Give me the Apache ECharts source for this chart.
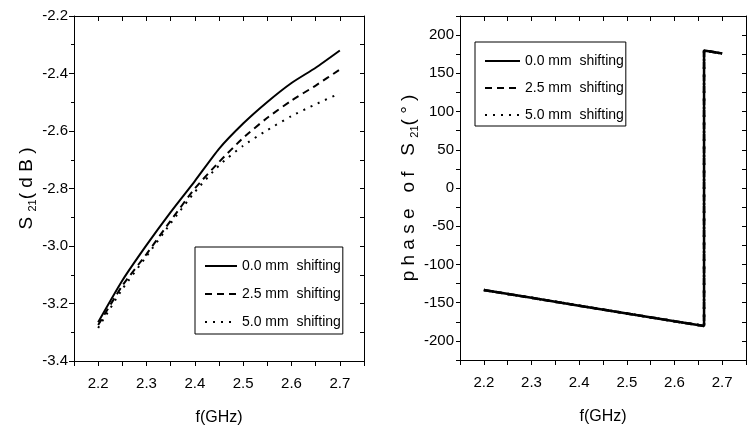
<!DOCTYPE html>
<html><head><meta charset="utf-8">
<script src="https://cdn.jsdelivr.net/npm/echarts@6/dist/echarts.min.js"></script>
<style>html,body{margin:0;padding:0;background:#fff}#c{width:749px;height:432px}</style>
</head><body><div id="c"></div>
<script>
// ---- data ----
const seriesNames = ['0.0 mm  shifting', '2.5 mm  shifting', '5.0 mm  shifting'];
const freq = [2.20, 2.25, 2.30, 2.35, 2.40, 2.45, 2.50, 2.55, 2.60, 2.65, 2.70];
const s21_0mm  = [-3.265, -3.120, -2.997, -2.882, -2.774, -2.662, -2.574, -2.499, -2.433, -2.380, -2.320];
const s21_25mm = [-3.275, -3.138, -3.028, -2.912, -2.800, -2.708, -2.624, -2.554, -2.494, -2.442, -2.386];
const s21_50mm = [-3.285, -3.150, -3.036, -2.921, -2.812, -2.720, -2.651, -2.597, -2.548, -2.507, -2.469];
const phaseFreq = [2.20, 2.30, 2.40, 2.50, 2.60, 2.662, 2.662, 2.70];
const phase_0mm  = [-133.5, -143.7, -153.9, -164.1, -174.3, -180.5, 180.0, 176.0];
const phase_25mm = [-133.5, -143.7, -153.9, -164.1, -174.3, -180.5, 180.0, 176.0];
const phase_50mm = [-133.5, -143.7, -153.9, -164.1, -174.3, -180.5, 180.0, 176.0];
const xTickLabels = ['2.2', '2.3', '2.4', '2.5', '2.6', '2.7'];

// ---- styles ----
const FONT = "'Liberation Sans', Arial, sans-serif";
const lineTypes = ['solid', [7, 5], [2, 6]];
const black = '#000';
const pair = (xs, ys) => xs.map((x, i) => [x, ys[i]]);

const lblStyle = { color: black, fontSize: 15, fontFamily: FONT };
const axLine = { show: true, onZero: false, lineStyle: { color: black, width: 1 } };

function xBottom(grid) {
  return {
    type: 'value', gridIndex: grid, position: 'bottom', min: 2.15, max: 2.75, interval: 0.05,
    axisLine: axLine, splitLine: { show: false },
    axisTick: { show: true, inside: false, length: 5, lineStyle: { color: black } },
    axisLabel: Object.assign({ margin: 15, formatter: v => {
      const k = Math.round(v * 100);
      const s = (k / 100).toFixed(1);
      return (k % 10 === 0 && xTickLabels.includes(s)) ? s : '';
    } }, lblStyle),
    name: 'f(GHz)', nameLocation: 'middle', nameGap: 49,
    nameTextStyle: { color: black, fontSize: 16, fontFamily: FONT }
  };
}
function xTop(grid) {
  return {
    type: 'value', gridIndex: grid, position: 'top', min: 2.15, max: 2.75, interval: 0.05,
    axisLine: axLine, splitLine: { show: false },
    axisTick: { show: true, inside: true, length: 5, lineStyle: { color: black } },
    axisLabel: { show: false }
  };
}

const subRich = {
  n: { fontSize: 19, fontFamily: FONT, color: black, lineHeight: 22 },
  s: { fontSize: 11, fontFamily: FONT, color: black, lineHeight: 12, verticalAlign: 'bottom' }
};

const noSymbol = { color: 'rgba(0,0,0,0)', borderColor: 'rgba(0,0,0,0)', borderWidth: 0 };

const option = {
  animation: false,
  backgroundColor: '#fff',
  grid: [
    { left: 74, right: 385, top: 16, bottom: 71 },
    { left: 460, right: 1, top: 16, bottom: 72 }
  ],
  xAxis: [xBottom(0), xTop(0), xBottom(1), xTop(1)],
  yAxis: [
    {
      type: 'value', gridIndex: 0, position: 'left', min: -3.4, max: -2.2, interval: 0.2,
      axisLine: axLine, splitLine: { show: false },
      axisTick: { show: true, inside: false, length: 5, lineStyle: { color: black } },
      minorTick: { show: true, splitNumber: 2, length: 3, lineStyle: { color: black } },
      axisLabel: Object.assign({ margin: 6, formatter: v => v.toFixed(1) }, lblStyle),
      name: '{n|S }{s|21}{n|( d B )}', nameLocation: 'middle', nameGap: 34,
      nameTextStyle: { rich: subRich }
    },
    {
      type: 'value', gridIndex: 0, position: 'right', min: -3.4, max: -2.2, interval: 0.1,
      axisLine: axLine, splitLine: { show: false },
      axisTick: { show: true, inside: true, length: 4, lineStyle: { color: black } },
      axisLabel: { show: false }
    },
    {
      type: 'value', gridIndex: 1, position: 'left', min: -225, max: 225, interval: 25,
      axisLine: axLine, splitLine: { show: false },
      axisTick: { show: true, inside: false, length: 4, lineStyle: { color: black } },
      axisLabel: Object.assign({ margin: 6, formatter: v => {
        const r = Math.round(v);
        return (Math.abs(r) <= 200 && r % 50 === 0) ? String(r) : '';
      } }, lblStyle),
      name: '{n|p h a s e   o f   S }{s|21}{n|( ° )}', nameLocation: 'middle', nameGap: 36,
      nameTextStyle: { rich: subRich }
    },
    {
      type: 'value', gridIndex: 1, position: 'right', min: -225, max: 225, interval: 25,
      axisLine: axLine, splitLine: { show: false },
      axisTick: { show: true, inside: true, length: 4, lineStyle: { color: black } },
      axisLabel: { show: false }
    }
  ],
  legend: [
    {
      left: 195, top: 247, orient: 'vertical', itemWidth: 32, itemHeight: 14, itemGap: 8,
      padding: [9, 2, 2, 9], borderColor: black, borderWidth: 1, backgroundColor: '#fff',
      textStyle: { color: black, fontSize: 14, fontFamily: FONT, lineHeight: 20 },
      itemStyle: noSymbol,
      data: seriesNames, selectedMode: false
    },
    {
      left: 475, top: 42, orient: 'vertical', itemWidth: 35, itemHeight: 14, itemGap: 7,
      padding: [9, 2, 1, 9], borderColor: black, borderWidth: 1, backgroundColor: '#fff',
      textStyle: { color: black, fontSize: 14, fontFamily: FONT, lineHeight: 20 },
      itemStyle: noSymbol,
      data: seriesNames, selectedMode: false
    }
  ],
  series: []
};

const s21Sets = [s21_0mm, s21_25mm, s21_50mm];
const phaseSets = [phase_0mm, phase_25mm, phase_50mm];
seriesNames.forEach((name, i) => {
  option.series.push({
    type: 'line', name, xAxisIndex: 0, yAxisIndex: 0, symbol: 'none', smooth: 0.2,
    data: pair(freq, s21Sets[i]),
    lineStyle: { color: black, width: 2, type: lineTypes[i] },
    itemStyle: { color: black }, z: 3 - i
  });
});
seriesNames.forEach((name, i) => {
  option.series.push({
    type: 'line', name, xAxisIndex: 2, yAxisIndex: 2, symbol: 'none', smooth: false,
    data: pair(phaseFreq, phaseSets[i]),
    lineStyle: { color: black, width: 2.5, type: lineTypes[i] },
    itemStyle: { color: black }, z: 3 - i
  });
});

const chart = echarts.init(document.getElementById('c'), null, { renderer: 'canvas' });
chart.setOption(option);
</script>
</body></html>
